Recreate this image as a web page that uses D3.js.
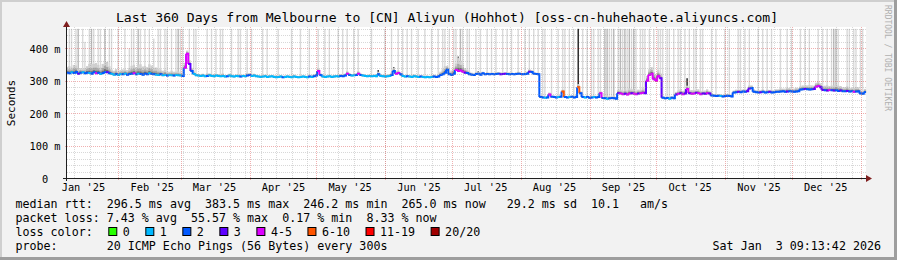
<!DOCTYPE html>
<html>
<head>
<meta charset="utf-8">
<script src="https://cdn.jsdelivr.net/npm/d3@7"></script>
<style>
  body { margin: 0; background: #f2f2f2; }
  text { font-family: "DejaVu Sans Mono", monospace; fill: #000; white-space: pre; }
</style>
</head>
<body>
<div id="chart"></div>
<script>
// Time range of the graph (one value per day)
const startTime = new Date(2025, 0, 8, 9, 13, 42);
const endTime = new Date(2026, 0, 3, 9, 13, 42);

// Median rtt per day, in ms
const median = [
  325,323,326,324,327,322,325,326,323,325,
  324,322,326,323,325,321,324,327,326,323,
  321,319,320,318,321,320,322,319,321,322,
  323,320,322,321,319,322,320,323,321,320,
  319,318,320,317,318,316,318,317,316,318,
  317,316,315,340,383,352,330,321,317,316,
  315,316,314,315,317,315,314,316,315,314,
  315,313,314,316,314,313,315,314,313,315,
  314,316,318,315,316,314,313,312,313,314,
  312,313,314,312,311,312,313,311,312,313,
  312,311,313,312,311,312,313,312,311,313,
  312,314,316,330,318,313,312,313,314,312,
  313,314,313,315,314,316,322,318,316,317,
  318,322,318,316,315,314,315,314,315,314,
  320,315,314,313,314,315,318,330,322,324,
  320,315,313,314,313,312,314,313,312,313,
  312,311,312,311,312,313,312,313,318,320,
  325,334,320,318,322,333,330,332,328,325,
  324,320,319,318,321,322,319,323,320,321,
  320,321,320,321,322,320,321,322,321,320,
  321,320,321,322,321,320,321,322,328,327,
  322,321,320,250,249,248,249,258,251,250,
  249,250,251,267,250,249,250,251,249,250,
  280,262,250,249,250,248,249,250,249,250,
  262,247,246,245,246,247,246,245,262,261,
  259,260,258,261,262,260,259,261,262,263,
  262,300,318,322,305,300,315,308,248,246,
  247,245,248,246,258,260,262,259,261,275,
  262,260,261,263,262,259,261,260,262,261,
  255,254,253,254,253,252,253,254,253,252,
  264,265,266,265,267,266,268,276,278,266,
  265,264,265,266,264,265,266,264,265,266,
  266,267,268,266,267,268,267,266,267,268,
  273,274,275,274,273,274,275,282,284,280,
  272,271,270,272,271,270,271,269,270,268,
  268,269,267,268,266,267,268,261,260,265
];

// Loss class per day (index into lossColors)
const lossClass = [
  2,2,1,2,2,3,2,1,2,2, 1,2,2,4,2,1,2,2,3,2, 1,1,2,1,1,2,1,2,2,2, 4,2,1,2,2,2,2,1,2,2,
  1,1,2,1,1,2,1,1,2,1, 1,1,2,4,4,3,2,1,1,1, 1,1,1,2,1,1,1,1,1,1, 1,1,2,1,1,1,1,1,2,1,
  1,2,2,1,1,1,1,1,1,1, 1,1,1,1,1,1,1,2,1,1, 1,1,1,1,1,1,1,1,1,2, 1,2,2,4,2,1,1,1,1,1,
  1,1,1,2,2,2,4,2,1,1, 2,4,2,1,1,1,1,1,1,1, 2,1,1,1,1,1,2,2,4,4, 2,1,1,2,1,1,1,1,1,2,
  1,1,1,1,1,2,2,2,2,2, 2,2,2,2,2,4,4,4,4,3, 2,2,2,2,2,2,2,2,2,2, 2,2,2,2,2,3,3,3,2,2,
  2,2,2,2,2,2,2,2,3,2, 2,2,2,2,2,1,2,4,2,2, 2,1,2,5,2,2,1,2,2,2, 5,2,2,1,2,2,2,1,2,2,
  4,2,2,1,2,2,2,2,3,4, 4,3,4,4,3,4,4,3,4,4, 3,4,4,4,4,4,4,3,2,2, 2,1,2,2,3,4,3,4,3,4,
  3,4,4,3,4,4,3,3,4,3, 2,2,2,2,1,2,2,2,2,2, 2,2,3,2,2,2,3,3,2,2, 2,2,3,2,2,2,3,2,2,2,
  2,2,2,2,3,2,2,2,2,2, 2,2,3,2,2,2,3,4,4,3, 3,2,3,4,2,3,2,2,3,2, 2,3,2,2,4,2,2,2,2,2
];

// Height of the dense smoke above the median, in ms
const smokeSpread = [
  18,22,15,25,20,12,14,10,16,20, 28,30,26,32,24,20,28,35,30,22,
  14,12,16,10,12,15,13,14,18,24, 26,22,28,30,25,24,22,28,26,20,
  22,18,15,14,16,12,10,14,12,10, 12,10,8,15,10,12,10,8,6,5,
  5,6,4,8,6,5,7,4,6,5, 8,5,4,6,5,4,5,6,5,4,
  5,8,6,4,6,5,4,5,4,5, 4,5,4,5,6,4,5,4,5,4,
  5,4,6,5,4,5,4,5,4,6, 5,6,6,8,5,4,5,4,5,4,
  5,4,5,6,5,6,8,6,5,4, 5,8,5,4,5,4,5,4,5,6,
  8,6,5,6,5,6,8,10,8,8, 6,5,4,5,4,5,6,5,4,5,
  5,4,5,4,5,6,5,6,10,15, 20,12,10,14,18,20,40,30,22,14,
  10,8,6,5,6,5,6,5,4,6, 5,4,5,6,5,6,5,4,5,6,
  5,4,5,6,5,4,5,6,8,6, 5,4,5,5,4,5,4,6,4,5,
  4,5,4,6,5,4,5,4,5,6, 10,6,5,4,5,4,5,4,5,4,
  6,5,6,8,6,5,8,6,10,12, 10,14,12,16,12,14,10,12,10,14,
  12,15,18,20,22,20,18,15,6,5, 5,6,5,6,8,10,12,10,12,10,
  10,12,10,8,12,10,8,10,12,8, 6,5,6,5,6,5,6,5,6,5,
  6,8,6,8,6,8,6,10,8,8, 6,8,6,8,6,8,6,8,6,8,
  8,10,8,10,12,10,8,10,12,10, 10,12,10,12,14,12,10,12,14,12,
  12,14,16,12,14,16,18,16,14,12, 12,14,12,10,12,14,12,10,8,10
];

// Outlier smoke bars: [day, top in ms, shade 0 light .. 3 black]
const outliers = [
  [1,460,0],[2,460,0],[4,460,0],[5,460,1],[7,460,0],[8,420,0],[10,460,0],[11,460,1],[12,460,0],
  [14,460,0],[15,460,0],[17,460,1],[18,356,3],[19,460,0],[20,460,0],[23,460,0],[26,460,0],
  [28,400,0],[29,460,0],[30,460,0],[32,460,1],[33,460,0],[35,460,0],[37,460,0],[39,430,0],
  [41,460,0],[42,460,0],[44,460,0],[45,460,0],[47,460,0],[49,460,0],[50,460,1],[51,460,0],
  [52,460,0],[54,386,3],[55,460,0],[57,460,0],[58,460,0],[63,460,0],[65,460,0],[67,460,0],[69,460,0],
  [70,460,0],[74,460,0],[77,460,0],[78,460,0],[81,460,0],[83,460,0],[88,460,0],[90,460,0],
  [95,460,0],[101,460,0],[105,460,0],[109,460,0],[113,460,0],[116,460,0],[118,460,0],
  [122,460,0],[124,460,0],[126,460,0],[129,460,0],[131,460,0],[137,460,0],[140,333,3],
  [143,460,0],[146,460,0],[147,342,3],[149,460,0],[151,460,0],[153,460,0],[155,460,0],
  [158,460,0],[161,460,0],[164,460,0],[167,460,0],[169,460,0],[170,460,0],[171,345,3],
  [172,460,0],[174,460,0],[175,460,0],[176,375,2],[177,460,1],[178,460,0],[180,460,0],
  [181,460,0],[184,460,0],[185,329,3],[186,460,0],[187,327,3],[189,460,0],[191,460,0],
  [193,460,0],[196,460,0],[198,460,0],[200,460,0],[203,460,0],[206,460,0],[208,460,0],
  [210,460,0],[212,460,0],[214,460,0],[215,460,0],[218,460,0],[221,460,0],[223,460,0],
  [224,460,0],[226,460,0],[228,460,0],[230,460,3],[232,460,0],[234,460,0],[236,460,0],
  [237,460,0],[239,460,0],[240,460,0],[242,460,1],[243,460,1],[244,460,0],[245,460,0],
  [246,460,1],[248,460,0],[249,460,1],[250,460,0],[251,460,1],[252,460,0],[253,460,1],
  [254,460,0],[255,460,1],[256,460,0],[258,460,0],[259,460,0],[260,460,0],[262,460,0],
  [264,460,0],[266,460,0],[267,460,0],[268,460,0],[270,460,0],[271,460,0],[273,460,0],
  [275,460,0],[276,460,0],[278,460,0],[279,308,3],[280,460,0],[282,460,0],[283,460,0],
  [285,460,0],[286,460,0],[290,460,0],[292,460,0],[296,460,0],[298,460,0],[302,460,0],
  [303,460,0],[305,460,0],[307,460,0],[311,460,0],[313,460,0],[315,460,0],[317,460,0],
  [321,460,0],[324,460,0],[326,460,0],[330,460,0],[332,460,0],[334,460,0],[338,460,0],
  [340,460,0],[342,460,0],[344,460,0],[345,460,1],[346,460,1],[347,460,0],[351,460,0],
  [352,460,0],[354,460,0],[355,460,0],[357,460,0],[358,460,0]
];

// Loss legend
const lossLabels = ["0", "1", "2", "3", "4-5", "6-10", "11-19", "20/20"];
const lossColors = ["#26ff00", "#00b8ff", "#0059ff", "#5e00ff", "#dd00ff", "#ff5500", "#ff0000", "#a00000"];
const shadeColors = ["#d9d9d9", "#b8b8b8", "#6a6a6a", "#1e1e1e"];

const yTicks = [0, 100, 200, 300, 400];

const title = "Last 360 Days from Melbourne to [CN] Aliyun (Hohhot) [oss-cn-huhehaote.aliyuncs.com]";
const statRows = [
  "median rtt:  296.5 ms avg  383.5 ms max  246.2 ms min  265.0 ms now   29.2 ms sd  10.1   am/s",
  "packet loss: 7.43 % avg  55.57 % max  0.17 % min  8.33 % now",
  "loss color:",
  "probe:       20 ICMP Echo Pings (56 Bytes) every 300s"
];
const stamp = "Sat Jan  3 09:13:42 2026";

// Set up dimensions
const width = 897, height = 260;
const plot = { left: 67, right: 866, top: 27, bottom: 178.3 };

const svg = d3.select("#chart")
  .append("svg")
  .attr("width", width)
  .attr("height", height);

// Background and 3d border
svg.append("rect").attr("width", width).attr("height", height).attr("fill", "#f2f2f2");
svg.append("path").attr("d", `M0,0H${width}V2H2V${height}H0Z`).attr("fill", "#cfcfcf");
svg.append("path").attr("d", `M${width},${height}H0V${height - 3}H${width - 3}V0H${width}Z`).attr("fill", "#9e9e9e");
svg.append("rect")
  .attr("x", plot.left).attr("y", plot.top)
  .attr("width", plot.right - plot.left).attr("height", plot.bottom - plot.top)
  .attr("fill", "#fff");

const x = d3.scaleTime().domain([startTime, endTime]).range([66, 866]);
const y = d3.scaleLinear().domain([0, 465]).range([plot.bottom, 27.2]);

const dayX = i => x(d3.timeDay.offset(startTime, i));
const days = d3.range(median.length);

const g = svg.append("g");

// Outlier bars (smoke that reaches far above the median)
g.selectAll(".outlier")
  .data(outliers)
  .join("rect")
  .attr("class", "outlier")
  .attr("x", d => dayX(d[0]) + 0.4)
  .attr("width", 1.4)
  .attr("y", d => y(Math.min(d[1], 465)))
  .attr("height", d => y(median[d[0]]) - y(Math.min(d[1], 465)))
  .attr("fill", d => shadeColors[d[2]]);

// Dense smoke around the median, three layers
const layers = [
  { lo: 3, hi: 1.0, color: "#cfcfcf" },
  { lo: 2, hi: 0.55, color: "#a9a9a9" },
  { lo: 1, hi: 0.25, color: "#6e6e6e" }
];
layers.forEach(L => {
  g.append("g").selectAll("rect")
    .data(days)
    .join("rect")
    .attr("x", i => dayX(i))
    .attr("width", i => dayX(i + 1) - dayX(i) + 0.1)
    .attr("y", i => y(median[i] + smokeSpread[i] * L.hi))
    .attr("height", i => y(median[i] - L.lo) - y(median[i] + smokeSpread[i] * L.hi))
    .attr("fill", L.color);
});

// Median line coloured by loss
g.append("g").selectAll("path")
  .data(days)
  .join("path")
  .attr("d", i => {
    const next = i < median.length - 1 ? median[i + 1] : median[i];
    return `M${dayX(i)},${y(median[i])}H${dayX(i + 1)}V${y(next)}`;
  })
  .attr("fill", "none")
  .attr("stroke", i => lossColors[lossClass[i]])
  .attr("stroke-width", 2);

// Grid on top, rrdtool style
const grid = svg.append("g").attr("shape-rendering", "crispEdges");
const sundays = d3.timeSunday.range(startTime, endTime);
const monthStarts = d3.timeMonth.range(startTime, endTime);
grid.selectAll(".vminor").data(sundays).join("line")
  .attr("x1", d => Math.round(x(d)) + 0.5).attr("x2", d => Math.round(x(d)) + 0.5)
  .attr("y1", plot.top).attr("y2", plot.bottom)
  .attr("stroke", "rgba(143,143,143,0.35)").attr("stroke-dasharray", "1,1");
d3.range(20, 461, 20).filter(v => v % 100).forEach(v => {
  grid.append("line")
    .attr("x1", plot.left).attr("x2", plot.right)
    .attr("y1", Math.round(y(v)) + 0.5).attr("y2", Math.round(y(v)) + 0.5)
    .attr("stroke", "rgba(143,143,143,0.35)").attr("stroke-dasharray", "1,1");
});
grid.selectAll(".vmajor").data(monthStarts).join("line")
  .attr("x1", d => Math.round(x(d)) + 0.5).attr("x2", d => Math.round(x(d)) + 0.5)
  .attr("y1", plot.top).attr("y2", plot.bottom + 3)
  .attr("stroke", "rgba(222,79,79,0.45)").attr("stroke-dasharray", "1,1");
yTicks.filter(v => v > 0).forEach(v => {
  grid.append("line")
    .attr("x1", plot.left - 2).attr("x2", plot.right)
    .attr("y1", Math.round(y(v)) + 0.5).attr("y2", Math.round(y(v)) + 0.5)
    .attr("stroke", "rgba(222,79,79,0.45)").attr("stroke-dasharray", "1,1");
});

// Axes lines and arrows
const axisY0 = Math.round(plot.bottom) + 0.5;
svg.append("line").attr("x1", 63).attr("x2", 868).attr("y1", axisY0).attr("y2", axisY0)
  .attr("stroke", "#1f1f1f").attr("shape-rendering", "crispEdges");
svg.append("line").attr("x1", 66.5).attr("x2", 66.5).attr("y1", 181).attr("y2", 24)
  .attr("stroke", "#1f1f1f").attr("shape-rendering", "crispEdges");
svg.append("path").attr("d", `M866,${axisY0 - 3.5}L872,${axisY0}L866,${axisY0 + 3.5}Z`).attr("fill", "#801f1f");
svg.append("path").attr("d", `M63,27L66.5,21L70,27Z`).attr("fill", "#801f1f");

// X axis labels (centered on mid-month)
const labelDates = d3.timeMonth.range(new Date(2025, 0, 1), new Date(2026, 0, 1))
  .map(d => d3.timeDay.offset(d, 15));
const xAxis = svg.append("g")
  .attr("transform", `translate(0,${plot.bottom})`)
  .call(d3.axisBottom(x).tickValues(labelDates).tickFormat(d3.timeFormat("%b '%y")).tickSize(0).tickPadding(5.5));
xAxis.select(".domain").remove();
xAxis.selectAll("text").style("font-family", "DejaVu Sans Mono").style("font-size", "10.3px");

// Y axis labels
const yAxis = svg.append("g")
  .attr("transform", `translate(${plot.left},0)`)
  .call(d3.axisLeft(y).tickValues(yTicks).tickFormat(d => d ? d + " m" : "0  ").tickSize(0).tickPadding(6.5));
yAxis.select(".domain").remove();
yAxis.selectAll("text").style("font-family", "DejaVu Sans Mono").style("font-size", "10.3px").attr("dy", "0.36em");

// Title
svg.append("text").attr("x", 447).attr("y", 21.5).attr("text-anchor", "middle")
  .style("font-size", "13.1px").text(title);

// Vertical label
svg.append("text").attr("transform", "translate(14.5,103) rotate(-90)")
  .attr("text-anchor", "middle").style("font-size", "11px").text("Seconds");

// Watermark
svg.append("text").attr("transform", "translate(885,5) rotate(90)")
  .style("font-size", "8px").style("fill", "#b0b0b0").text("RRDTOOL / TOBI OETIKER");

// Legend rows
const rowY = [208, 222, 236, 250];
statRows.forEach((t, k) => {
  svg.append("text").attr("x", 15.5).attr("y", rowY[k]).style("font-size", "11.66px").text(t);
});
svg.append("text").attr("x", 881).attr("y", rowY[3]).attr("text-anchor", "end")
  .style("font-size", "11.66px").text(stamp);

// Loss color boxes
let bx = 108.3;
lossLabels.forEach((lab, k) => {
  svg.append("rect").attr("x", bx + 0.5).attr("y", 227.5).attr("width", 8).attr("height", 8)
    .attr("fill", lossColors[k]).attr("stroke", "#000").attr("stroke-width", 1);
  svg.append("text").attr("x", bx + 14.5).attr("y", rowY[2]).style("font-size", "11.66px").text(lab);
  bx += 14.5 + lab.length * 7.02 + 15.5;
});
</script>
</body>
</html>
